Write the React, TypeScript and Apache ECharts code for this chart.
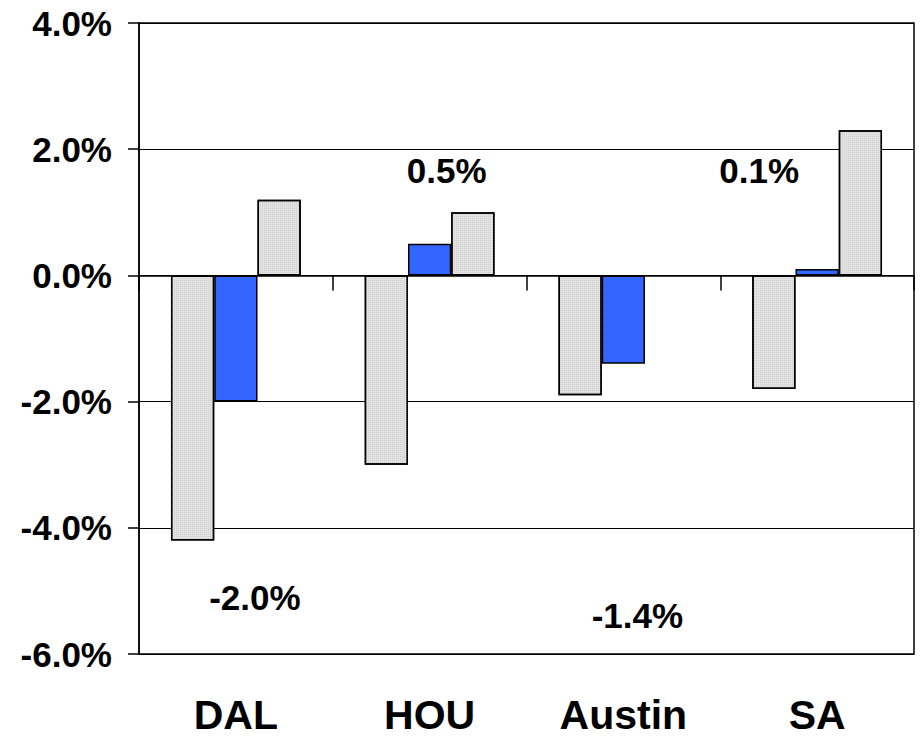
import React, { useEffect, useRef } from "react";
import * as echarts from "echarts";

const categories = ["DAL", "HOU", "Austin", "SA"];
const grayA = [-4.2, -3.0, -1.9, -1.8];
const blueVals = [-2.0, 0.5, -1.4, 0.1];
const grayB: (number | null)[] = [1.2, 1.0, null, 2.3];
// positions of the value labels for the blue series (in axis units), and horizontal shifts
const labelY = [-5.1, 1.67, -5.39, 1.66];
const labelDx = [19, 17, 14, -58];

const FONT = "'Liberation Sans', Arial, sans-serif";

export default function App() {
  const ref = useRef<HTMLDivElement>(null);
  useEffect(() => {
    if (!ref.current) return;
    const chart = echarts.init(ref.current, null, { renderer: "svg" });
    const grayStyle = {
      color: "#e3e3e3",
      borderColor: "#000",
      borderWidth: 1.5,
      decal: {
        symbol: "rect",
        symbolSize: 1,
        color: "#cccccc",
        dashArrayX: [1, 1],
        dashArrayY: [1, 1],
        rotation: 0,
      },
    };
    chart.setOption({
      animation: false,
      backgroundColor: "#fff",
      grid: {
        left: 139,
        right: 7,
        top: 23,
        bottom: 85,
        show: true,
        borderColor: "#000",
        borderWidth: 1.5,
      },
      xAxis: [
        {
          type: "category",
          data: categories,
          position: "bottom",
          axisLine: { show: false, onZero: false },
          axisTick: { show: false },
          axisLabel: {
            fontSize: 41,
            fontWeight: "bold",
            fontFamily: FONT,
            color: "#000",
            margin: 40,
          },
        },
        {
          type: "category",
          data: categories,
          position: "top",
          axisLine: { show: true, onZero: true, lineStyle: { color: "#000", width: 1.5 } },
          axisTick: { show: true, inside: true, length: 15, lineStyle: { color: "#000", width: 1.5 } },
          axisLabel: { show: false },
        },
      ],
      yAxis: {
        type: "value",
        min: -6,
        max: 4,
        interval: 2,
        axisLine: { show: true, lineStyle: { color: "#000", width: 1.5 } },
        axisTick: { show: true, length: 11, lineStyle: { color: "#000", width: 1.5 } },
        splitLine: { show: true, lineStyle: { color: "#000", width: 1 } },
        axisLabel: {
          fontSize: 35,
          fontWeight: "bold",
          fontFamily: FONT,
          color: "#000",
          margin: 27,
          formatter: (v: number) => v.toFixed(1) + "%",
        },
      },
      series: [
        {
          type: "bar",
          name: "a",
          data: grayA,
          barGap: "0%",
          barCategoryGap: "33%",
          itemStyle: grayStyle,
        },
        {
          type: "bar",
          name: "b",
          data: blueVals,
          itemStyle: { color: "#3366ff", borderColor: "#000", borderWidth: 1.5 },
        },
        {
          type: "bar",
          name: "c",
          data: grayB.map((v) => (v === null ? "-" : v)),
          itemStyle: grayStyle,
        },
        {
          type: "scatter",
          name: "labels",
          symbolSize: 0,
          silent: true,
          itemStyle: { opacity: 1 },
          data: categories.map((c, i) => ({
            value: [c, labelY[i]],
            label: {
              show: true,
              position: "inside",
              offset: [labelDx[i], 0],
              formatter: () => blueVals[i].toFixed(1) + "%",
              fontSize: 35,
              fontWeight: "bold",
              fontFamily: FONT,
              color: "#000",
              opacity: 1,
              textBorderWidth: 0,
            },
          })),
        },
      ],
    });
    return () => chart.dispose();
  }, []);
  return (
    <div
      ref={ref}
      style={{ position: "fixed", left: 0, top: 0, width: 921, height: 739 }}
    />
  );
}
